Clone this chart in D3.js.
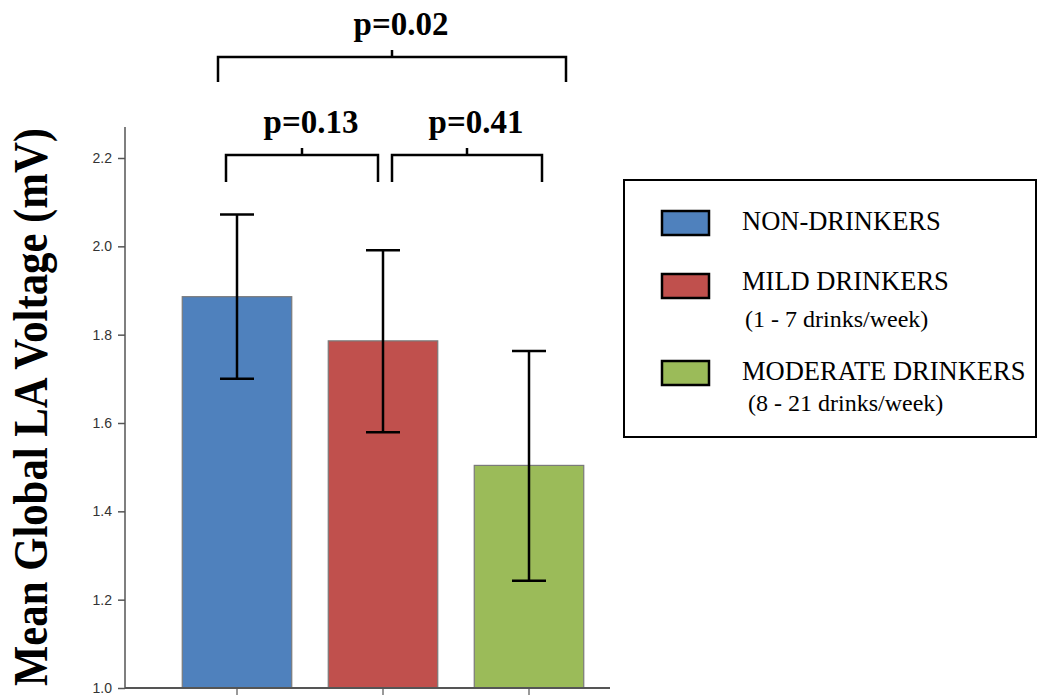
<!DOCTYPE html>
<html>
<head>
<meta charset="utf-8">
<script src="https://cdn.jsdelivr.net/npm/d3@7"></script>
<style>
  body { margin: 0; background: #fff; }
</style>
</head>
<body>
<div id="chart"></div>
<script>
const w = 1038;
const h = 700;

// data
const groups = ["NON-DRINKERS", "MILD DRINKERS", "MODERATE DRINKERS"];
const subLabels = ["", "(1 - 7 drinks/week)", "(8 - 21 drinks/week)"];
const means = [1.886, 1.786, 1.504];
const errLow = [1.70, 1.579, 1.243];
const errHigh = [2.072, 1.991, 1.763];
const colors = ["#4F81BD", "#C0504D", "#9BBB59"];
const yTicks = [1.0, 1.2, 1.4, 1.6, 1.8, 2.0, 2.2];
// brackets: [from, to, level, label]
const brackets = [
  [0, 2, 0, "p=0.02"],
  [0, 1, 1, "p=0.13"],
  [1, 2, 1, "p=0.41"]
];

var svg = d3.select("#chart")
            .append("svg")
            .attr("width", w)
            .attr("height", h);

var y = d3.scaleLinear()
          .domain([1.0, 2.2])
          .range([688, 158]);

var x = d3.scaleBand()
          .domain(groups)
          .range([164, 602])
          .paddingInner(0.25)
          .paddingOuter(0.125);

// bars
svg.append("g")
   .selectAll("rect")
   .data(groups)
   .enter()
   .append("rect")
   .attr("x", (d) => x(d))
   .attr("y", (d, i) => y(means[i]))
   .attr("width", x.bandwidth())
   .attr("height", (d, i) => y(1.0) - y(means[i]))
   .attr("fill", (d, i) => colors[i])
   .attr("stroke", "#7a7a7a")
   .attr("stroke-width", 1.2);

// y axis
var yAxis = d3.axisLeft(y)
              .tickValues(yTicks)
              .tickFormat(d3.format(".1f"))
              .tickSize(7)
              .tickPadding(6);

var yG = svg.append("g")
   .attr("transform", "translate(125,0)")
   .call(yAxis);
yG.select(".domain").remove();
yG.selectAll(".tick line").attr("stroke", "#555").attr("stroke-width", 1.5);
yG.selectAll(".tick text")
  .attr("fill", "#333")
  .style("font-family", "Liberation Sans, Arial, sans-serif")
  .style("font-size", "14px");

svg.append("line")
   .attr("x1", 125).attr("x2", 125)
   .attr("y1", y(2.27)).attr("y2", y(1.0))
   .attr("stroke", "#555").attr("stroke-width", 1.5);

// x axis
var xAxis = d3.axisBottom(x).tickSize(7).tickFormat("");
var xG = svg.append("g")
   .attr("transform", "translate(0," + y(1.0) + ")")
   .call(xAxis);
xG.select(".domain").remove();
xG.selectAll(".tick line").attr("stroke", "#777").attr("stroke-width", 1.5);

svg.append("line")
   .attr("x1", 125).attr("x2", 610)
   .attr("y1", y(1.0)).attr("y2", y(1.0))
   .attr("stroke", "#555").attr("stroke-width", 2);

// error bars
var eb = svg.append("g")
   .attr("stroke", "#000")
   .attr("stroke-width", 2.5);

groups.forEach(function (g, i) {
  var cx = x(g) + x.bandwidth() / 2;
  eb.append("line")
    .attr("x1", cx).attr("x2", cx)
    .attr("y1", y(errHigh[i])).attr("y2", y(errLow[i]));
  eb.append("line")
    .attr("x1", cx - 17).attr("x2", cx + 17)
    .attr("y1", y(errHigh[i])).attr("y2", y(errHigh[i]));
  eb.append("line")
    .attr("x1", cx - 17).attr("x2", cx + 17)
    .attr("y1", y(errLow[i])).attr("y2", y(errLow[i]));
});

// significance brackets
var levelY = [57, 155];
var legLen = [25, 27];
var offL = { "0-2": -19, "0-1": -11, "1-2": 9 };
var offR = { "0-2": 37, "0-1": -5, "1-2": 13 };

brackets.forEach(function (b) {
  var key = b[0] + "-" + b[1];
  var x1 = x(groups[b[0]]) + x.bandwidth() / 2 + offL[key];
  var x2 = x(groups[b[1]]) + x.bandwidth() / 2 + offR[key];
  var by = levelY[b[2]];
  var mid = (x1 + x2) / 2;
  svg.append("path")
     .attr("d", "M" + x1 + "," + (by + legLen[b[2]]) + "V" + by + "H" + x2 + "V" + (by + legLen[b[2]]))
     .attr("fill", "none")
     .attr("stroke", "#000")
     .attr("stroke-width", 2.5);
  svg.append("line")
     .attr("x1", mid).attr("x2", mid)
     .attr("y1", by).attr("y2", by - 7)
     .attr("stroke", "#000")
     .attr("stroke-width", 2.5);
  svg.append("text")
     .attr("x", mid + 9)
     .attr("y", by - 22)
     .attr("text-anchor", "middle")
     .style("font-family", "Liberation Serif, Times New Roman, serif")
     .style("font-weight", "bold")
     .style("font-size", "33px")
     .text(b[3]);
});

// y axis title
svg.append("text")
   .attr("transform", "translate(47," + 407 + ") rotate(-90)")
   .attr("text-anchor", "middle")
   .attr("textLength", 558)
   .attr("lengthAdjust", "spacingAndGlyphs")
   .style("font-family", "Liberation Serif, Times New Roman, serif")
   .style("font-weight", "bold")
   .style("font-size", "49px")
   .text("Mean Global LA Voltage (mV)");

// legend
var legend = svg.append("g").attr("id", "legend");
legend.append("rect")
      .attr("x", 624).attr("y", 180)
      .attr("width", 412).attr("height", 257)
      .attr("fill", "#fff")
      .attr("stroke", "#000")
      .attr("stroke-width", 2);

var swatchY = [211, 274, 361];
var labelY = [230, 290, 380];
var subY = [0, 327, 411];
var subX = [0, 745, 748];

groups.forEach(function (g, i) {
  legend.append("rect")
        .attr("x", 662).attr("y", swatchY[i])
        .attr("width", 47).attr("height", 24)
        .attr("fill", colors[i])
        .attr("stroke", "#000")
        .attr("stroke-width", 2.5);
  legend.append("text")
        .attr("x", 742).attr("y", labelY[i])
        .style("font-family", "Liberation Serif, Times New Roman, serif")
        .style("font-size", "26.5px")
        .text(g);
  if (subLabels[i]) {
    legend.append("text")
          .attr("x", subX[i]).attr("y", subY[i])
          .style("font-family", "Liberation Serif, Times New Roman, serif")
          .style("font-size", "24px")
          .text(subLabels[i]);
  }
});
</script>
</body>
</html>
